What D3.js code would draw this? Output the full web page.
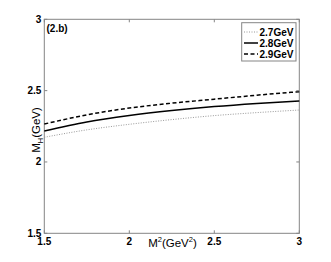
<!DOCTYPE html>
<html><head><meta charset="utf-8">
<script src="https://cdn.jsdelivr.net/npm/d3@7"></script>
<style>body{margin:0;background:#fff}svg{display:block}text{font-family:"Liberation Sans",Arial,sans-serif}</style>
</head><body>
<svg id="c" width="331" height="262"></svg>
<script>
const xVals = [1.5, 1.75, 2.0, 2.25, 2.5, 2.75, 3.0];
const s27 = [2.173, 2.225, 2.264, 2.297, 2.325, 2.346, 2.364];
const s28 = [2.217, 2.280, 2.325, 2.360, 2.388, 2.410, 2.428];
const s29 = [2.266, 2.330, 2.378, 2.412, 2.440, 2.468, 2.493];
const seriesNames = ["2.7GeV", "2.8GeV", "2.9GeV"];
const xTicks = [1.5, 2, 2.5, 3];
const yTicks = [1.5, 2, 2.5, 3];

const svg = d3.select("#c");
const L = 44.3, R = 299.3, T = 19.3, B = 233.3;
const x = d3.scaleLinear().domain([1.5, 3]).range([L, R]);
const y = d3.scaleLinear().domain([1.5, 3]).range([B, T]);
const axCol = "#858585";

const g = svg.append("g");
xTicks.forEach(t => {
  g.append("line").attr("x1", x(t)).attr("x2", x(t)).attr("y1", B).attr("y2", B - 3).attr("stroke", axCol);
  g.append("line").attr("x1", x(t)).attr("x2", x(t)).attr("y1", T).attr("y2", T + 3).attr("stroke", axCol);
  g.append("text").attr("x", x(t)).attr("y", 245).attr("text-anchor", "middle")
    .attr("font-size", 10).attr("font-weight", "bold").text(t);
});
yTicks.forEach(t => {
  g.append("line").attr("x1", L).attr("x2", L + 3).attr("y1", y(t)).attr("y2", y(t)).attr("stroke", axCol);
  g.append("line").attr("x1", R).attr("x2", R - 3).attr("y1", y(t)).attr("y2", y(t)).attr("stroke", axCol);
  g.append("text").attr("x", L - 3).attr("y", y(t) + 3.5).attr("text-anchor", "end")
    .attr("font-size", 10).attr("font-weight", "bold").text(t);
});
svg.append("rect").attr("x", L).attr("y", T).attr("width", R - L).attr("height", B - T)
  .attr("fill", "none").attr("stroke", axCol).attr("stroke-width", 1);

const line = d3.line().x((d, i) => x(xVals[i])).y(d => y(d)).curve(d3.curveMonotoneX);
const styles = [
  {data: s27, color: "#999", dash: "1,1.5", w: 1},
  {data: s28, color: "#000", dash: null, w: 1.5},
  {data: s29, color: "#000", dash: "4,2.5", w: 1.5}
];
styles.forEach(s => {
  svg.append("path").attr("d", line(s.data)).attr("fill", "none").attr("stroke", s.color)
    .attr("stroke-width", s.w).attr("stroke-dasharray", s.dash);
});

svg.append("text").attr("x", 46.5).attr("y", 32).attr("font-size", 10).attr("font-weight", "bold").text("(2.b)");

svg.append("rect").attr("x", 241.7).attr("y", 22.7).attr("width", 54.3).attr("height", 38.3)
  .attr("fill", "#fff").attr("stroke", axCol);
styles.forEach((s, i) => {
  const yy = 32 + i * 11;
  svg.append("line").attr("x1", 244).attr("x2", 258).attr("y1", yy).attr("y2", yy)
    .attr("stroke", s.color).attr("stroke-width", s.w).attr("stroke-dasharray", s.dash);
  svg.append("text").attr("x", 259.5).attr("y", yy + 3.5).attr("font-size", 10).attr("font-weight", "bold").text(seriesNames[i]);
});

const xt = svg.append("text").attr("x", 172.5).attr("y", 246.5).attr("text-anchor", "middle").attr("font-size", 11.5);
xt.append("tspan").text("M");
xt.append("tspan").attr("font-size", 7.5).attr("dy", -4.5).text("2");
xt.append("tspan").attr("dy", 4.5).text("(GeV");
xt.append("tspan").attr("font-size", 7.5).attr("dy", -4.5).text("2");
xt.append("tspan").attr("dy", 4.5).text(")");

const yt = svg.append("text").attr("transform", "translate(40,130) rotate(-90)").attr("text-anchor", "middle").attr("font-size", 11.5);
yt.append("tspan").text("M");
yt.append("tspan").attr("font-size", 7.5).attr("dy", 3).text("H");
yt.append("tspan").attr("dy", -3).text("(GeV)");
</script>
</body></html>
